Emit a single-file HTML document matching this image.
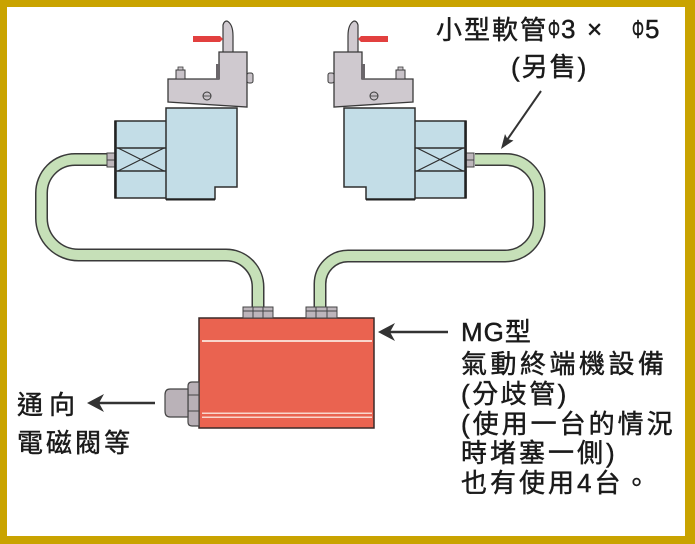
<!DOCTYPE html>
<html><head><meta charset="utf-8"><style>
html,body{margin:0;padding:0;background:#fff;}
svg{display:block;}
text{font-family:"Liberation Sans","Noto Sans CJK TC","Noto Sans CJK SC",sans-serif;fill:#1a1a1a;stroke:#1a1a1a;stroke-width:0.45px;font-size:26px;}
</style></head><body>
<svg width="695" height="544" viewBox="0 0 695 544" xmlns="http://www.w3.org/2000/svg">
<rect x="0" y="0" width="695" height="544" fill="#c9a300"/>
<rect x="7" y="7" width="678" height="529" fill="#ffffff"/>

<!-- tubes -->
<g fill="none" stroke-linejoin="round">
<path d="M107,159.5 H75 A33.5,33.5 0 0 0 41.5,193 V218 A37,37 0 0 0 78.5,255 H226 A32,32 0 0 1 258,287 V308" stroke="#3a3a3a" stroke-width="13"/>
<path d="M107,159.5 H75 A33.5,33.5 0 0 0 41.5,193 V218 A37,37 0 0 0 78.5,255 H226 A32,32 0 0 1 258,287 V308" stroke="#c6e0b8" stroke-width="10"/>
<path d="M475,159.5 H506 A33,33 0 0 1 539,192.5 V222 A34,34 0 0 1 505,256 H348 A28,28 0 0 0 320,284 V308" stroke="#3a3a3a" stroke-width="13"/>
<path d="M475,159.5 H506 A33,33 0 0 1 539,192.5 V222 A34,34 0 0 1 505,256 H348 A28,28 0 0 0 320,284 V308" stroke="#c6e0b8" stroke-width="10"/>
</g>

<!-- left device -->
<g id="dev">
  <rect x="107" y="153" width="8" height="14" fill="#bdb6bb" stroke="#444" stroke-width="1"/>
  <line x1="107" y1="160" x2="115" y2="160" stroke="#444" stroke-width="1"/>
  <rect x="115" y="121" width="52" height="77" fill="#c3dde7" stroke="#2e2e2e" stroke-width="1.5"/>
  <line x1="115.5" y1="121" x2="115.5" y2="198" stroke="#222" stroke-width="2.5"/>
  <line x1="115" y1="148" x2="167" y2="148" stroke="#2e2e2e" stroke-width="1.5"/>
  <line x1="115" y1="171" x2="167" y2="171" stroke="#2e2e2e" stroke-width="1.5"/>
  <line x1="118" y1="148" x2="164" y2="171" stroke="#2e2e2e" stroke-width="1.2"/>
  <line x1="118" y1="171" x2="164" y2="148" stroke="#2e2e2e" stroke-width="1.2"/>
  <polygon points="166,108 237,108 237,187 215,187 215,199 166,199" fill="#c3dde7" stroke="#2e2e2e" stroke-width="1.5"/>
  <line x1="166" y1="199.5" x2="215" y2="199.5" stroke="#222" stroke-width="2"/>
  <path d="M223,53 V25 Q224,21 227,21 Q233,24 233,36 V53 Z" fill="#d0cad0" stroke="#3a3a3a" stroke-width="1.2"/>
  <polygon points="168,79 219,79 219,52 247,52 247,107 168,102" fill="#cfc9cf" stroke="#3a3a3a" stroke-width="1.3"/>
  <rect x="216" y="64" width="4" height="15" fill="#6a666a"/>
  <rect x="193" y="36" width="27" height="6" fill="#e2403f"/>
  <polygon points="220,36 223,39 220,42" fill="#e2403f"/>
  <rect x="176" y="70" width="9" height="9" fill="#c8c2c8" stroke="#3a3a3a" stroke-width="1"/>
  <rect x="178" y="67" width="5" height="3" fill="#c8c2c8" stroke="#3a3a3a" stroke-width="0.8"/>
  <rect x="247" y="73" width="6" height="10" rx="2" fill="#c8c2c8" stroke="#3a3a3a" stroke-width="1"/>
  <circle cx="207" cy="96" r="4" fill="#c8c2c8" stroke="#3a3a3a" stroke-width="1"/>
  <line x1="203.5" y1="96" x2="210.5" y2="96" stroke="#3a3a3a" stroke-width="0.8"/>
</g>
<use href="#dev" transform="translate(581,0) scale(-1,1)"/>

<!-- MG box -->
<rect x="199" y="318" width="175" height="110" fill="#ea6350" stroke="#3a2a28" stroke-width="1.5"/>
<rect x="202" y="340" width="170" height="2" fill="#f9d6cc"/>
<rect x="202" y="412.5" width="170" height="1.5" fill="#f9d6cc"/>
<rect x="202" y="416.5" width="170" height="1.5" fill="#f9d6cc"/>
<g fill="#bdb5bb" stroke="#444" stroke-width="1">
  <rect x="243" y="307" width="30" height="11"/>
  <rect x="306" y="307" width="31" height="11"/>
</g>
<g stroke="#444" stroke-width="1">
  <line x1="253" y1="307" x2="253" y2="318"/><line x1="263" y1="307" x2="263" y2="318"/>
  <line x1="243" y1="311" x2="273" y2="311"/>
  <line x1="316" y1="307" x2="316" y2="318"/><line x1="327" y1="307" x2="327" y2="318"/>
  <line x1="306" y1="311" x2="337" y2="311"/>
</g>
<path d="M199,382 H192 Q188,382 188,386 V422 Q188,426 192,426 H199 Z" fill="#b8b0b6" stroke="#444" stroke-width="1.2"/>
<line x1="188" y1="395" x2="199" y2="395" stroke="#444" stroke-width="1"/>
<line x1="188" y1="411" x2="199" y2="411" stroke="#444" stroke-width="1"/>
<path d="M188,389 H170 Q165,389 165,395 V411 Q165,417 170,417 H188 Z" fill="#bab2b8" stroke="#444" stroke-width="1.2"/>

<!-- arrows -->
<line x1="97" y1="403" x2="155" y2="403" stroke="#333" stroke-width="2.5"/>
<polygon points="87,403 104,394 99,403 104,412" fill="#333"/>
<line x1="388" y1="332" x2="448" y2="332" stroke="#333" stroke-width="2.5"/>
<polygon points="378,332 395,323 390,332 395,341" fill="#333"/>
<line x1="541" y1="91" x2="507" y2="140" stroke="#333" stroke-width="2"/>
<polygon points="501,149 513.5,140.5 507.5,139 505,134" fill="#333"/>

<!-- texts -->
<text x="436" y="39" font-size="25" letter-spacing="2">小型軟管</text>
<text x="548" y="38" textLength="12" lengthAdjust="spacingAndGlyphs" font-size="23">Φ</text>
<text x="561" y="38" font-size="24">3</text>
<text x="587" y="38" font-size="24">×</text>
<text x="632" y="38" textLength="12" lengthAdjust="spacingAndGlyphs" font-size="23">Φ</text>
<text x="645" y="38" font-size="24">5</text>
<text x="511" y="76" font-size="25" letter-spacing="2">(另售)</text>

<text x="17" y="414" letter-spacing="6">通向</text>
<text x="17" y="452" letter-spacing="3">電磁閥等</text>

<text x="461" y="341" font-size="25" letter-spacing="1">MG型</text>
<text x="461" y="373" letter-spacing="3.5">氣動終端機設備</text>
<text x="461" y="403" letter-spacing="2.5">(分歧管)</text>
<text x="461" y="433" letter-spacing="3">(使用一台的情況</text>
<text x="461" y="462" letter-spacing="3">時堵塞一側)</text>
<text x="461" y="492" letter-spacing="3">也有使用4台。</text>
</svg>
</body></html>
